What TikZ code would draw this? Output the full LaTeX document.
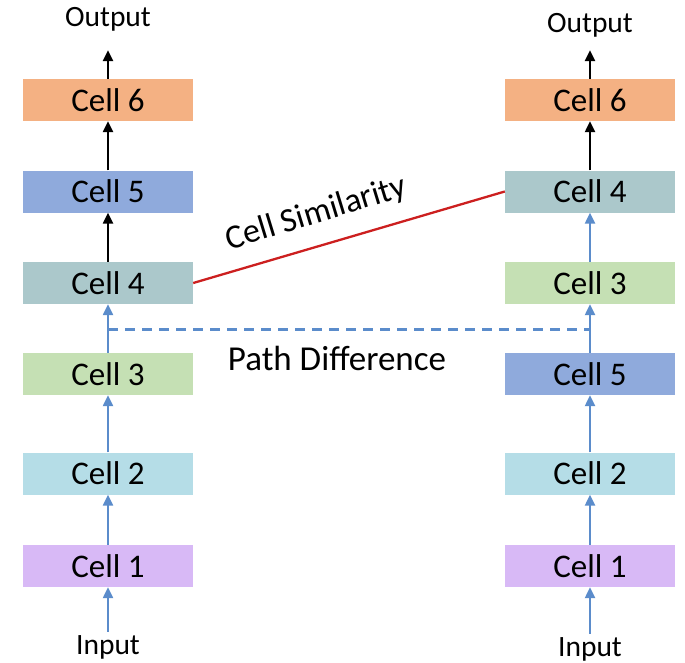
\documentclass[tikz,border=0pt]{standalone}
\usepackage{fontspec}
\setmainfont{Carlito}
\usetikzlibrary{arrows.meta}
\definecolor{cone}{HTML}{D8B9F6}
\definecolor{ctwo}{HTML}{B5DDE7}
\definecolor{cthree}{HTML}{C5E0B4}
\definecolor{cfour}{HTML}{ABC8CB}
\definecolor{cfive}{HTML}{8FAADC}
\definecolor{csix}{HTML}{F4B183}
\definecolor{flow}{HTML}{5B8CCB}
\definecolor{simred}{HTML}{CC1F1F}
\tikzset{
  cell/.style={minimum width=170pt,minimum height=42pt,inner sep=0pt,font=\fontsize{33}{38}\selectfont},
  io/.style={inner sep=3pt,font=\fontsize{29.5}{34}\selectfont},
  up/.style={line width=2.3pt,flow,-{Triangle[length=11pt,width=10pt]}},
  upb/.style={line width=2.3pt,black,-{Triangle[length=11pt,width=10pt]}}
}
\begin{document}
\begin{tikzpicture}[x=1pt,y=-1pt]
\useasboundingbox (0,0) rectangle (685,662);
% left path
\node[cell,fill=cone]   (l1) at (108,566) {Cell 1};
\node[cell,fill=ctwo]   (l2) at (108,473.5) {Cell 2};
\node[cell,fill=cthree] (l3) at (108,374) {Cell 3};
\node[cell,fill=cfour]  (l4) at (108,283) {Cell 4};
\node[cell,fill=cfive]  (l5) at (108,191.5) {Cell 5};
\node[cell,fill=csix]   (l6) at (108,100) {Cell 6};
\node[io] (inl) at (108,647) {Input};
\node[io] (outl) at (108,19) {Output};
% right path
\node[cell,fill=cone]   (r1) at (590,566) {Cell 1};
\node[cell,fill=ctwo]   (r2) at (590,473.5) {Cell 2};
\node[cell,fill=cfive]  (r5) at (590,374) {Cell 5};
\node[cell,fill=cthree] (r3) at (590,283) {Cell 3};
\node[cell,fill=cfour]  (r4) at (590,191.5) {Cell 4};
\node[cell,fill=csix]   (r6) at (590,100) {Cell 6};
\node[io] (inr) at (590,649) {Input};
\node[io] (outr) at (590,25) {Output};

\draw[up] (inl) -- (l1);
\draw[up] (l1) -- (l2);
\draw[up] (l2) -- (l3);
\draw[up] (l3) -- (l4);
\draw[upb] (l4) -- (l5);
\draw[upb] (l5) -- (l6);
\draw[upb,shorten >=16pt] (l6) -- (outl);

\draw[up] (inr) -- (r1);
\draw[up] (r1) -- (r2);
\draw[up] (r2) -- (r5);
\draw[up] (r5) -- (r3);
\draw[up] (r3) -- (r4);
\draw[upb] (r4) -- (r6);
\draw[upb,shorten >=10pt] (r6) -- (outr);

\coordinate (dy) at (0,329);
\coordinate (dl) at (l3.north |- dy);
\coordinate (dr) at (r5.north |- dy);
\draw[flow,line width=3pt,dash pattern=on 10pt off 7pt] (dl) -- (dr);
\node[font=\fontsize{35}{40}\selectfont] (pdiff) at (337,358) {Path Difference};

\draw[simred,line width=2.3pt] (l4.east) -- (r4.west);
\node[rotate=17,font=\fontsize{34}{38}\selectfont] (csim) at (316,214) {Cell Similarity};
\end{tikzpicture}
\end{document}
